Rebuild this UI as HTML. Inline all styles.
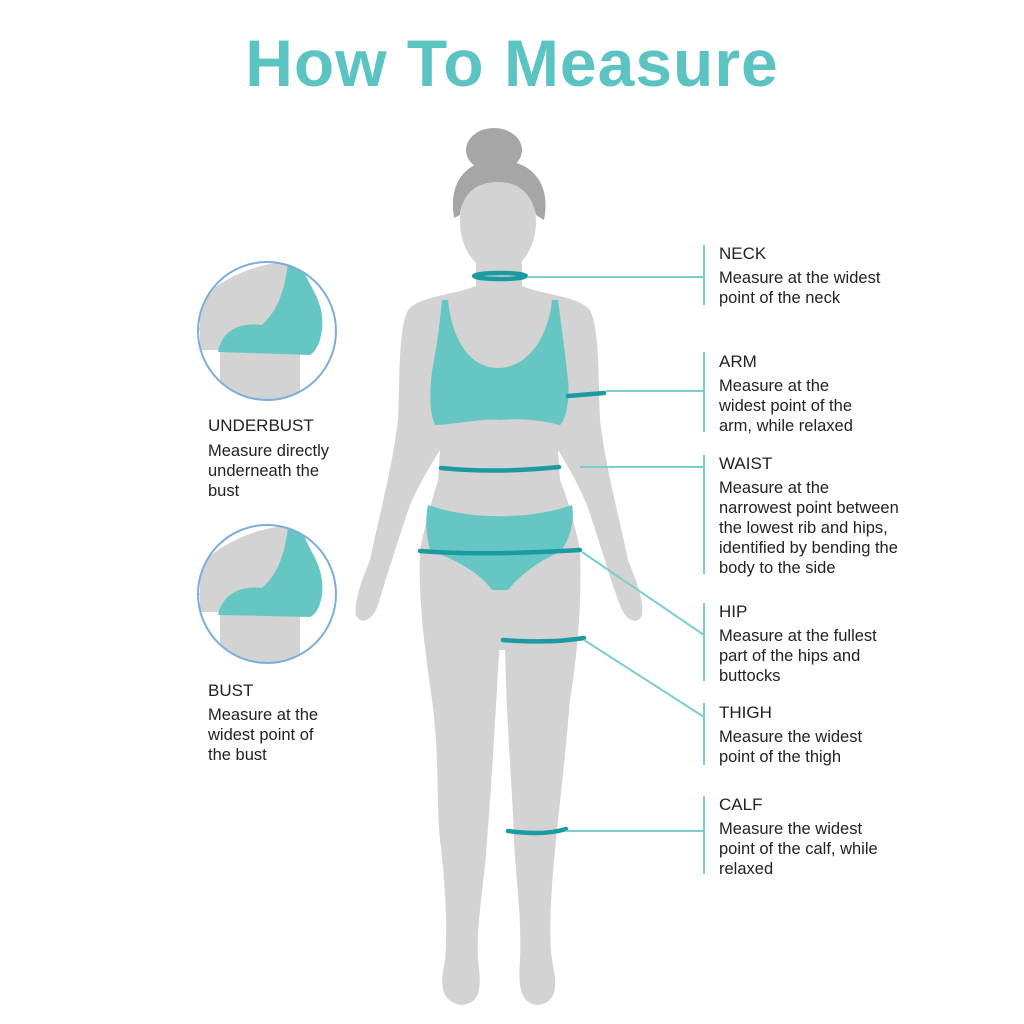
<!DOCTYPE html>
<html><head><meta charset="utf-8"><style>
html,body{margin:0;padding:0;background:#fff;}
svg{display:block;}
text{font-family:"Liberation Sans","DejaVu Sans",sans-serif;fill:#222;}
.h{font-size:17px;}
.t{font-size:16.5px;}
</style></head><body>
<svg width="1024" height="1024" viewBox="0 0 1024 1024" xmlns="http://www.w3.org/2000/svg">
<text x="512" y="86" text-anchor="middle" style="font-size:66px;font-weight:bold;fill:#5cc3c3;letter-spacing:1px">How To Measure</text>

<!-- body -->
<g fill="#d3d3d3">
 <rect x="476" y="245" width="46" height="50"/>
 <path d="M476,286 C450,296 420,296 408,310 C398,330 400,380 398,420 C392,470 378,520 370,560 C362,580 354,600 356,615 C360,625 372,622 378,605 C384,585 395,550 405,520 C412,495 428,470 440,450 L438,480 C432,500 425,525 420,550 C418,600 425,650 432,700 C440,760 436,800 440,840 C445,880 448,930 445,960 C440,985 440,1000 460,1005 C480,1004 482,990 478,960 C476,920 485,880 487,840 C492,780 495,720 500,640 L505,640 C506,720 512,780 514,840 C516,880 522,920 520,960 C518,985 520,1004 538,1005 C560,1002 556,980 552,960 C548,930 552,880 556,840 C560,800 565,760 570,700 C578,650 582,600 580,550 C575,525 568,500 560,480 L558,450 C570,470 585,495 592,520 C602,550 612,585 620,605 C626,622 638,625 642,615 C644,600 636,580 628,560 C620,520 606,470 600,420 C598,380 600,330 590,310 C578,296 548,296 522,286 Z"/>
 <path d="M485,585 L515,585 L508,650 L495,650 Z"/>
 <ellipse cx="498" cy="222" rx="38" ry="50"/>
</g>
<g fill="#a6a6a6">
 <ellipse cx="494" cy="150" rx="28" ry="22"/>
 <path d="M454,218 C448,180 468,160 498,160 C528,160 552,180 544,220 L536,215 C532,195 520,182 498,182 C474,182 462,196 460,215 Z"/>
</g>
<path fill="#66c6c4" d="M442,300 L448,300 C452,340 470,368 498,368 C526,368 548,340 552,300 L558,300 C562,330 566,360 568,380 C570,400 566,420 560,425 C540,420 520,418 500,420 C480,418 455,425 435,425 C428,410 430,380 434,360 C438,340 440,320 442,300 Z"/>
<path fill="#66c6c4" d="M428,505 C470,520 530,520 572,505 C575,520 570,540 560,552 C540,560 520,575 508,590 L492,590 C478,570 450,558 430,550 C426,535 425,520 428,505 Z"/>

<g fill="none" stroke="#1c9aa2" stroke-width="4.5" stroke-linecap="round">
 <ellipse cx="500" cy="276" rx="26" ry="3"/>
 <path d="M568,396 L604,393"/>
 <path d="M441,468 C480,472 520,471 559,467"/>
 <path d="M420,551 C470,555 530,553 580,550"/>
 <path d="M503,640 C530,642 560,642 584,638"/>
 <path d="M508,831 C530,834 550,834 566,829"/>
 <path d="M216,354 C250,356 290,357 311,353"/>
 <path d="M230,586 L328,585"/>
</g>

<g stroke="#7ccdcf" stroke-width="2" fill="none">
 <path d="M527,277 H704"/>
 <path d="M606,391 H704"/>
 <path d="M580,467 H704"/>
 <path d="M582,552 L704,635"/>
 <path d="M584,640 L704,717"/>
 <path d="M566,831 H704"/>
 <path d="M704,245 V305 M704,352 V432 M704,455 V574 M704,603 V681 M704,703 V765 M704,796 V874"/>
</g>

<defs>
 <clipPath id="c1"><circle cx="267" cy="331" r="69"/></clipPath>
 <clipPath id="c2"><circle cx="267" cy="594" r="69"/></clipPath>
</defs>
<g clip-path="url(#c1)">
 <rect x="190" y="255" width="160" height="160" fill="#fff"/>
 <rect x="220" y="340" width="80" height="80" fill="#d3d3d3"/>
 <path d="M200,300 C230,270 270,262 290,262 L300,300 L240,350 L200,350 Z" fill="#d3d3d3"/>
 <path d="M218,352 C222,330 240,322 262,325 C278,310 285,290 288,262 L300,262 C310,290 325,300 322,330 C320,345 315,352 310,355 Z" fill="#66c6c4"/>
 <path d="M198,330 C220,300 250,285 270,290 C260,310 240,322 220,330 Z" fill="#d3d3d3"/>
</g>
<g clip-path="url(#c2)">
 <rect x="190" y="520" width="160" height="160" fill="#fff"/>
 <rect x="220" y="600" width="80" height="80" fill="#d3d3d3"/>
 <path d="M200,565 C230,535 270,526 290,526 L300,565 L240,612 L200,612 Z" fill="#d3d3d3"/>
 <path d="M218,615 C222,595 240,585 262,588 C278,574 285,554 288,526 L300,526 C310,554 325,565 322,595 C320,608 315,615 310,617 Z" fill="#66c6c4"/>
 <path d="M198,595 C220,565 250,550 270,555 C260,575 240,585 220,595 Z" fill="#d3d3d3"/>
</g>
<g fill="none" stroke="#7aaedc" stroke-width="2">
 <circle cx="267" cy="331" r="69"/>
 <circle cx="267" cy="594" r="69"/>
</g>

<text class="h" x="208" y="431">UNDERBUST</text>
<text class="t" x="208" y="456">Measure directly</text>
<text class="t" x="208" y="476">underneath the</text>
<text class="t" x="208" y="496">bust</text>
<text class="h" x="208" y="696">BUST</text>
<text class="t" x="208" y="720">Measure at the</text>
<text class="t" x="208" y="740">widest point of</text>
<text class="t" x="208" y="760">the bust</text>

<text class="h" x="719" y="259">NECK</text>
<text class="t" x="719" y="283">Measure at the widest</text>
<text class="t" x="719" y="303">point of the neck</text>
<text class="h" x="719" y="367">ARM</text>
<text class="t" x="719" y="391">Measure at the</text>
<text class="t" x="719" y="411">widest point of the</text>
<text class="t" x="719" y="431">arm, while relaxed</text>
<text class="h" x="719" y="469">WAIST</text>
<text class="t" x="719" y="493">Measure at the</text>
<text class="t" x="719" y="513">narrowest point between</text>
<text class="t" x="719" y="533">the lowest rib and hips,</text>
<text class="t" x="719" y="553">identified by bending the</text>
<text class="t" x="719" y="573">body to the side</text>
<text class="h" x="719" y="617">HIP</text>
<text class="t" x="719" y="641">Measure at the fullest</text>
<text class="t" x="719" y="661">part of the hips and</text>
<text class="t" x="719" y="681">buttocks</text>
<text class="h" x="719" y="718">THIGH</text>
<text class="t" x="719" y="742">Measure the widest</text>
<text class="t" x="719" y="762">point of the thigh</text>
<text class="h" x="719" y="810">CALF</text>
<text class="t" x="719" y="834">Measure the widest</text>
<text class="t" x="719" y="854">point of the calf, while</text>
<text class="t" x="719" y="874">relaxed</text>
</svg>
</body></html>
